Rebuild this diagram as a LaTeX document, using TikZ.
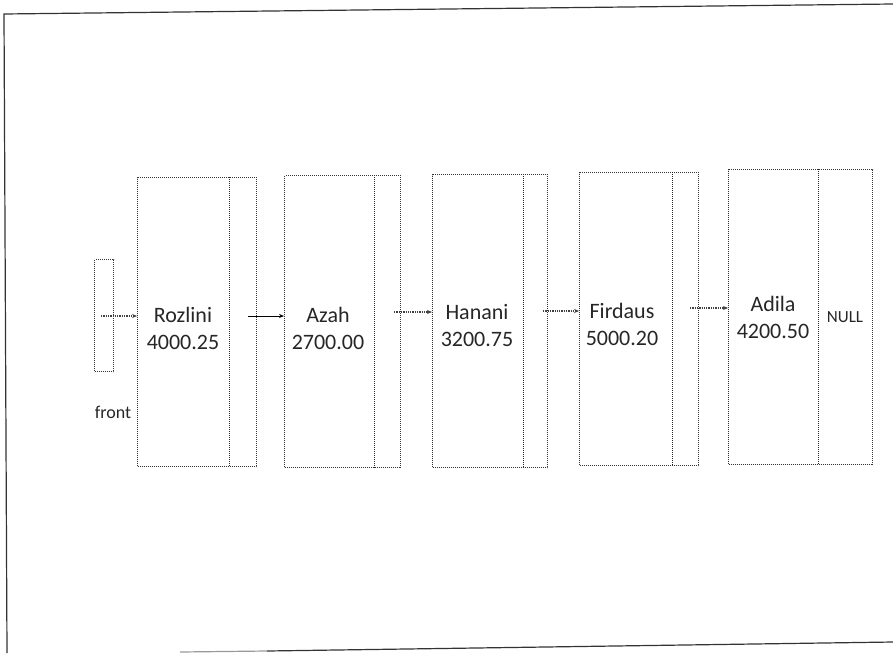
\documentclass[tikz,border=0pt]{standalone}
\usepackage{fontspec}
\setmainfont{Carlito}
\usetikzlibrary{arrows.meta}
\begin{document}
\begin{tikzpicture}[x=1pt,y=-1pt,
  cellbox/.style={draw=black!80, densely dotted, line width=1pt, anchor=north west, inner sep=0pt},
  divider/.style={draw=black!85, densely dotted, line width=1pt},
  ptr/.style={draw=black!75, densely dotted, line width=1.3pt, -{Stealth[length=5pt,width=4pt]}},
  ptrsolid/.style={draw=black, line width=1pt, -{Stealth[length=5pt,width=4pt]}},
  lbl/.style={align=center, font=\fontsize{22}{27}\selectfont, text=black!85, inner sep=0pt},
  frame/.style={draw=black!80, line width=1.2pt}]
\useasboundingbox (0,0) rectangle (893,653);
% frame
\coordinate (ftl) at (4,14);
\coordinate (ftr) at (893,4);
\coordinate (fbl) at (7,653);
\coordinate (fbs) at (180,652);
\coordinate (fbm) at (267,651);
\coordinate (fbr) at (893,642);
\draw[frame] (fbl) -- (ftl) -- (ftr);
\draw[frame, draw=black!40] (fbs) -- (fbm);
\draw[frame] (fbm) -- (fbr);
% front pointer box
\node[cellbox, minimum width=19pt, minimum height=112pt] (front) at (94,259) {};
\node[font=\fontsize{18}{20}\selectfont, text=black!85] (frontlbl) at (113,412) {front};
% list nodes
\node[cellbox, minimum width=119pt, minimum height=289pt] (n1) at (137,177) {};
\node[cellbox, minimum width=116pt, minimum height=292pt] (n2) at (284,175) {};
\node[cellbox, minimum width=115pt, minimum height=293pt] (n3) at (432,174) {};
\node[cellbox, minimum width=119pt, minimum height=293pt] (n4) at (579,172) {};
\node[cellbox, minimum width=144pt, minimum height=295pt] (n5) at (728,169) {};
% dividers
\draw[divider] ([xshift=92pt]n1.north west) -- ([xshift=92pt]n1.south west);
\draw[divider] ([xshift=90pt]n2.north west) -- ([xshift=90pt]n2.south west);
\draw[divider] ([xshift=91pt]n3.north west) -- ([xshift=91pt]n3.south west);
\draw[divider] ([xshift=93pt]n4.north west) -- ([xshift=93pt]n4.south west);
\draw[divider] ([xshift=90pt]n5.north west) -- ([xshift=90pt]n5.south west);
% labels
\node[lbl] (t1) at (183,328) {Rozlini\\4000.25};
\node[lbl] (t2) at (328,328) {Azah\\2700.00};
\node[lbl] (t3) at (477,326) {Hanani\\3200.75};
\node[lbl] (t4) at (622,324) {Firdaus\\5000.20};
\node[lbl] (t5) at (773,317) {Adila\\4200.50};
\node[font=\fontsize{17}{20}\selectfont, text=black!85] (null) at (845,317) {NULL};
% pointers
\coordinate (p0) at (101,316);
\coordinate (p1) at (248,316);
\coordinate (p2) at (394,312);
\coordinate (p3) at (543,311);
\coordinate (p4) at (690,308);
\draw[ptr] (p0) -- (n1.west |- p0);
\draw[ptrsolid] (p1) -- (n2.west |- p1);
\draw[ptr] (p2) -- (n3.west |- p2);
\draw[ptr] (p3) -- (n4.west |- p3);
\draw[ptr] (p4) -- (n5.west |- p4);
\end{tikzpicture}
\end{document}
